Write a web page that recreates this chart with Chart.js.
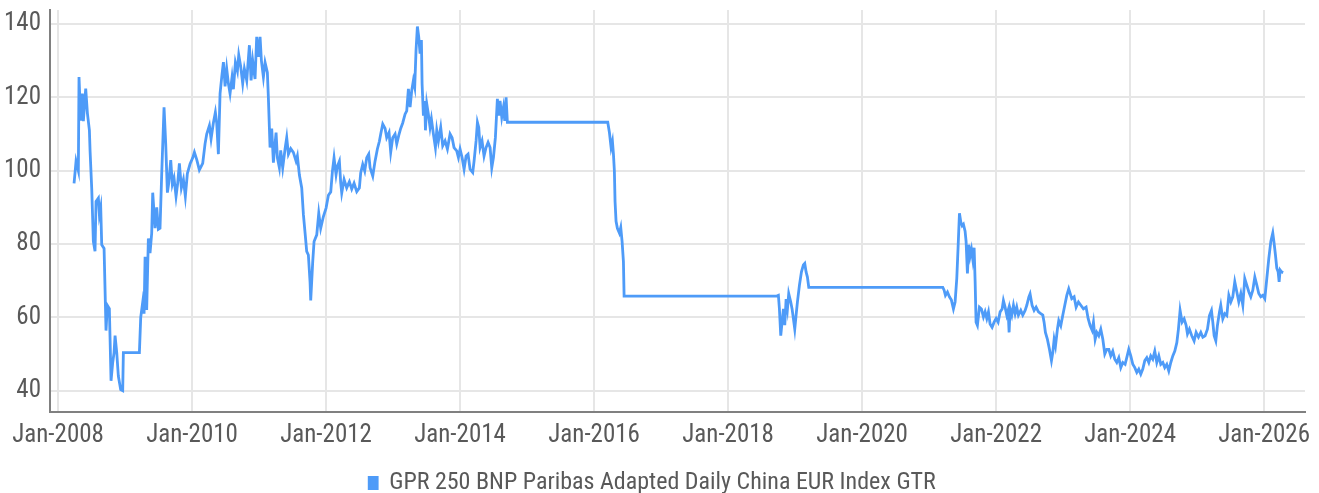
<!DOCTYPE html>
<html>
<head>
<meta charset="utf-8">
<script src="https://cdn.jsdelivr.net/npm/chart.js@4.4.1/dist/chart.umd.min.js"></script>
<style>
  body { margin: 0; background: #fff; }
  canvas { display: block; }
</style>
</head>
<body>
<canvas id="gpr-chart" width="1319" height="493"></canvas>
<script>
// decimal years
const dates = [
  2008.239, 2008.254, 2008.269, 2008.303, 2008.313, 2008.338, 2008.363, 2008.378, 2008.413, 2008.438,
  2008.468, 2008.478, 2008.503, 2008.527, 2008.552, 2008.567, 2008.602, 2008.617, 2008.637, 2008.652,
  2008.687, 2008.716, 2008.736, 2008.766, 2008.791, 2008.816, 2008.836, 2008.851, 2008.876, 2008.900,
  2008.935, 2008.965, 2008.975, 2009.214, 2009.234, 2009.264, 2009.284, 2009.299, 2009.323, 2009.348,
  2009.373, 2009.398, 2009.413, 2009.448, 2009.473, 2009.497, 2009.522, 2009.547, 2009.582, 2009.607,
  2009.632, 2009.652, 2009.682, 2009.706, 2009.731, 2009.761, 2009.786, 2009.811, 2009.841, 2009.871,
  2009.900, 2009.930, 2009.970, 2010.010, 2010.035, 2010.070, 2010.109, 2010.159, 2010.194, 2010.219,
  2010.259, 2010.284, 2010.318, 2010.348, 2010.368, 2010.393, 2010.418, 2010.443, 2010.468, 2010.493,
  2010.517, 2010.542, 2010.567, 2010.597, 2010.617, 2010.647, 2010.677, 2010.697, 2010.726, 2010.756,
  2010.781, 2010.816, 2010.856, 2010.881, 2010.905, 2010.940, 2010.965, 2010.990, 2011.015, 2011.035,
  2011.065, 2011.090, 2011.124, 2011.139, 2011.154, 2011.164, 2011.189, 2011.214, 2011.239, 2011.254,
  2011.274, 2011.303, 2011.323, 2011.353, 2011.388, 2011.413, 2011.438, 2011.473, 2011.512, 2011.552,
  2011.572, 2011.602, 2011.637, 2011.662, 2011.687, 2011.711, 2011.736, 2011.761, 2011.771, 2011.801,
  2011.821, 2011.861, 2011.891, 2011.920, 2011.960, 2012.000, 2012.035, 2012.070, 2012.095, 2012.119,
  2012.149, 2012.169, 2012.199, 2012.219, 2012.234, 2012.269, 2012.308, 2012.348, 2012.383, 2012.418,
  2012.458, 2012.497, 2012.517, 2012.547, 2012.577, 2012.607, 2012.637, 2012.657, 2012.697, 2012.731,
  2012.766, 2012.796, 2012.816, 2012.846, 2012.881, 2012.905, 2012.940, 2012.965, 2012.995, 2013.030,
  2013.055, 2013.085, 2013.114, 2013.144, 2013.179, 2013.204, 2013.229, 2013.254, 2013.279, 2013.303,
  2013.323, 2013.343, 2013.363, 2013.383, 2013.403, 2013.423, 2013.433, 2013.453, 2013.473, 2013.483,
  2013.503, 2013.527, 2013.552, 2013.572, 2013.602, 2013.632, 2013.652, 2013.677, 2013.711, 2013.741,
  2013.776, 2013.811, 2013.851, 2013.881, 2013.910, 2013.950, 2013.975, 2014.000, 2014.030, 2014.060,
  2014.090, 2014.119, 2014.149, 2014.189, 2014.209, 2014.239, 2014.259, 2014.279, 2014.299, 2014.328,
  2014.358, 2014.388, 2014.418, 2014.448, 2014.473, 2014.498, 2014.527, 2014.557, 2014.577, 2014.597,
  2014.622, 2014.647, 2014.667, 2014.687, 2014.706,
  2016.204, 2016.229, 2016.254, 2016.274, 2016.289, 2016.303, 2016.313, 2016.328, 2016.348, 2016.378,
  2016.398, 2016.418, 2016.438, 2016.448,
  2018.726, 2018.751, 2018.766, 2018.786, 2018.806, 2018.826, 2018.846, 2018.866, 2018.886, 2018.905,
  2018.935, 2018.955, 2018.975, 2018.995, 2019.015, 2019.035, 2019.065, 2019.095, 2019.124, 2019.144,
  2019.164, 2019.184, 2019.204,
  2021.204, 2021.224, 2021.244, 2021.274, 2021.303, 2021.333, 2021.363, 2021.388, 2021.413, 2021.433,
  2021.453, 2021.473, 2021.493, 2021.512, 2021.537, 2021.552, 2021.572, 2021.592, 2021.612, 2021.632,
  2021.652, 2021.672, 2021.687, 2021.701, 2021.721, 2021.751, 2021.781, 2021.811, 2021.836, 2021.861,
  2021.886, 2021.910, 2021.940, 2021.970, 2022.000, 2022.030, 2022.060, 2022.090, 2022.109, 2022.134,
  2022.159, 2022.179, 2022.194, 2022.209, 2022.234, 2022.259, 2022.284, 2022.308, 2022.333, 2022.368,
  2022.398, 2022.433, 2022.458, 2022.488, 2022.507, 2022.537, 2022.567, 2022.597, 2022.632, 2022.667,
  2022.697, 2022.716, 2022.736, 2022.766, 2022.796, 2022.826, 2022.846, 2022.866, 2022.886, 2022.915,
  2022.935, 2022.965, 2022.995, 2023.025, 2023.055, 2023.084, 2023.129, 2023.164, 2023.194, 2023.229,
  2023.264, 2023.303, 2023.343, 2023.373, 2023.403, 2023.433, 2023.453, 2023.478, 2023.503, 2023.532,
  2023.562, 2023.592, 2023.622, 2023.652, 2023.682, 2023.711, 2023.741, 2023.771, 2023.801, 2023.831,
  2023.861, 2023.891, 2023.925, 2023.950, 2023.980, 2024.010, 2024.040, 2024.070, 2024.100, 2024.129,
  2024.159, 2024.189, 2024.219, 2024.249, 2024.279, 2024.308, 2024.338, 2024.368, 2024.398, 2024.428,
  2024.458, 2024.488, 2024.517, 2024.547, 2024.577, 2024.607, 2024.637, 2024.667, 2024.697, 2024.721,
  2024.746, 2024.776, 2024.806, 2024.836, 2024.856, 2024.885, 2024.920, 2024.955, 2024.985, 2025.020,
  2025.055, 2025.085, 2025.119, 2025.154, 2025.184, 2025.214, 2025.234, 2025.254, 2025.279, 2025.303,
  2025.333, 2025.353, 2025.383, 2025.413, 2025.443, 2025.473, 2025.503, 2025.532, 2025.562, 2025.592,
  2025.622, 2025.652, 2025.682, 2025.711, 2025.741, 2025.771, 2025.801, 2025.831, 2025.861, 2025.891,
  2025.920, 2025.950, 2025.980, 2026.010, 2026.040, 2026.070, 2026.100, 2026.129, 2026.149, 2026.169,
  2026.189, 2026.209, 2026.224, 2026.239, 2026.259, 2026.284
];

const gprValues = [
  96.5, 99.5, 102.6, 100, 125.5, 113.6, 121, 113.5, 122.4, 115.7,
  111, 105.4, 95, 80.7, 78, 91.6, 92.5, 88, 90, 79.8,
  78.8, 56.4, 63.3, 62.4, 42.7, 47.7, 50.4, 55, 50.4, 44,
  40.3, 40, 50.4, 50.4, 60, 64.2, 61, 76.5, 62, 81.5,
  77.5, 83, 94, 84.3, 90, 84, 84.3, 99, 117.3, 107.3,
  94, 96.6, 102.9, 96.3, 98, 93, 96.6, 102, 95.3, 97.6,
  93, 99.2, 101.8, 103.5, 105, 103, 100.2, 102, 107.3, 110,
  112.3, 108.7, 113, 115.9, 113, 104.5, 121, 125.5, 129.6, 123,
  127.8, 123.8, 121, 125.5, 122.2, 129.5, 127.2, 131.5, 128.4, 123.8,
  127.8, 124.6, 134.2, 124.6, 130, 125, 136.5, 131, 136.5, 130,
  125.5, 129.5, 126.8, 120, 111.8, 106.3, 111.5, 102.2, 107.3, 110.4,
  103.5, 100.8, 105.5, 100.8, 105.9, 109, 104.5, 106, 105, 102.6,
  104, 98.8, 95.3, 88, 83, 78, 77, 69.7, 64.6, 75.2,
  80.7, 82.5, 88.4, 84.3, 87.5, 89.8, 93.3, 94.2, 99.9, 103.5,
  98.9, 101.2, 102.6, 96.6, 93.9, 97.6, 95.3, 97, 95, 96.6,
  94.3, 95.3, 99.4, 101.7, 99.9, 103.5, 104.5, 100.8, 98.5, 102.6,
  105.9, 108, 110, 112.7, 111.5, 109, 110.4, 105, 109, 110,
  107.3, 109.6, 111.5, 113, 115.4, 116.3, 122.3, 117.3, 121.9, 124.6,
  122.8, 132.9, 139.3, 136.5, 131.9, 135.6, 123.7, 115, 119, 111,
  118.2, 115.4, 111.8, 114.1, 110, 106.3, 111, 108.1, 111.8, 106.8,
  108.1, 105.9, 110, 109, 106.3, 105.4, 103.6, 105.9, 103.6, 100.4,
  104, 104.5, 100.4, 99.5, 102.6, 108.1, 113.2, 111.8, 106.3, 108.1,
  104, 106.3, 107.7, 106.3, 100.8, 103.6, 109, 119.6, 115, 119,
  114.6, 117.3, 113.6, 120, 113.2,
  113.2, 110.4, 106.3, 108, 104.5, 99.9, 91.6, 86.2, 84.3, 83,
  84.5, 80.7, 75.2, 65.8,
  65.8, 66, 62.3, 55, 58.8, 62.3, 57.9, 65, 62.3, 66.5,
  64.2, 62.3, 59.6, 56.8, 60.6, 64.2, 68.8, 72.4, 74.3, 74.7,
  72.4, 71, 68.2,
  68.2, 67.4, 66, 66.9, 65.6, 64.7, 62.3, 64.2, 70.6, 79.3,
  88.4, 86, 85, 85.4, 83.5, 80.7, 72, 79.8, 76.7, 78.5,
  75.8, 79, 69.7, 58.7, 57.8, 62.8, 62.3, 60.1, 61.5, 59.7,
  61.5, 58.2, 57.3, 58.7, 59.7, 58.7, 61.5, 62.3, 64.6, 62.8,
  60.6, 61.9, 55.9, 62.3, 60.6, 63.3, 61, 62.8, 60.6, 61.9,
  60.6, 61.9, 63.3, 65.5, 66.4, 63.3, 61.9, 62.8, 61.5, 61,
  60.6, 58.7, 55.9, 54, 51.3, 48.2, 50.4, 54, 52.2, 56.8,
  59.1, 57.7, 60.6, 63.3, 66, 67.8, 65.1, 65.6, 62.8, 64.2,
  63.3, 62.3, 62.8, 59.7, 57.8, 56.5, 58.7, 54, 55.9, 55,
  56.8, 54.1, 50, 51.3, 51.3, 49.5, 50.8, 48.6, 47.7, 49,
  46.3, 47.7, 47.2, 49, 51.3, 49.5, 47.2, 46.3, 45, 45.9,
  44.5, 45.9, 48.2, 49, 47.7, 49.5, 48.6, 50.8, 47.7, 49.5,
  47.2, 47.7, 46.3, 47.2, 45.4, 47.7, 49.5, 50.8, 53.1, 56.8,
  61.9, 58.7, 59.6, 57.8, 55.5, 56.8, 55, 53.6, 55.9, 54.6,
  55.9, 54.6, 55, 56.8, 60.5, 61.9, 58.7, 55, 53.6, 57.8,
  61.4, 63.3, 59.6, 61, 60.5, 66, 64.2, 65.6, 69.7, 67,
  64.2, 66.5, 63.3, 70.6, 68.8, 67, 65.6, 67.4, 71, 68.8,
  66.5, 65.6, 66, 65.1, 70.6, 76.1, 80.7, 83, 80.2, 77,
  73.4, 72.4, 69.7, 72.9, 72.4, 72.2
];

const xTicks = [2008, 2010, 2012, 2014, 2016, 2018, 2020, 2022, 2024, 2026];
const yTicks = [40, 60, 80, 100, 120, 140];
const seriesLabel = 'GPR 250 BNP Paribas Adapted Daily China EUR Index GTR';

const fontFamily = "'Liberation Sans Narrow', 'Roboto Condensed', 'Roboto', sans-serif";
const textColor = '#595959';
const lineBlue = '#4e9bf8';

const points = dates.map((d, i) => ({ x: d, y: gprValues[i] }));

const ctx = document.getElementById('gpr-chart').getContext('2d');
const gprChart = new Chart(ctx, {
    type: 'line',
    data: {
        datasets: [{
            label: seriesLabel,
            data: points,
            borderColor: lineBlue,
            backgroundColor: lineBlue,
            borderWidth: 2.8,
            pointRadius: 0,
            tension: 0
        }]
    },
    options: {
        responsive: false,
        animation: false,
        layout: {
            padding: { top: 10, right: 14, left: 0, bottom: -12 }
        },
        scales: {
            x: {
                type: 'linear',
                min: 2007.88,
                max: 2026.61,
                afterBuildTicks: (axis) => { axis.ticks = xTicks.map(v => ({ value: v })); },
                afterFit: (axis) => { axis.height = 40; axis.paddingLeft = 0; axis.paddingRight = 0; },
                ticks: {
                    padding: 9,
                    color: textColor,
                    font: { family: fontFamily, size: 25 },
                    callback: (value) => 'Jan-' + value
                },
                grid: { color: '#e6e6e6', lineWidth: 2, drawTicks: false },
                border: { display: true, color: '#808080', width: 2 }
            },
            y: {
                min: 34.2,
                max: 143.8,
                afterBuildTicks: (axis) => { axis.ticks = yTicks.map(v => ({ value: v })); },
                afterFit: (axis) => { axis.width = 50; axis.paddingTop = 0; axis.paddingBottom = 0; },
                ticks: {
                    padding: 9,
                    color: textColor,
                    font: { family: fontFamily, size: 25 }
                },
                grid: { color: '#e6e6e6', lineWidth: 2, drawTicks: false },
                border: { display: true, color: '#808080', width: 2 }
            }
        },
        plugins: {
            legend: {
                position: 'bottom',
                labels: {
                    boxWidth: 8,
                    boxHeight: 11,
                    padding: 19,
                    color: textColor,
                    font: { family: fontFamily, size: 24 }
                }
            },
            tooltip: { enabled: false }
        }
    }
});
</script>
</body>
</html>
